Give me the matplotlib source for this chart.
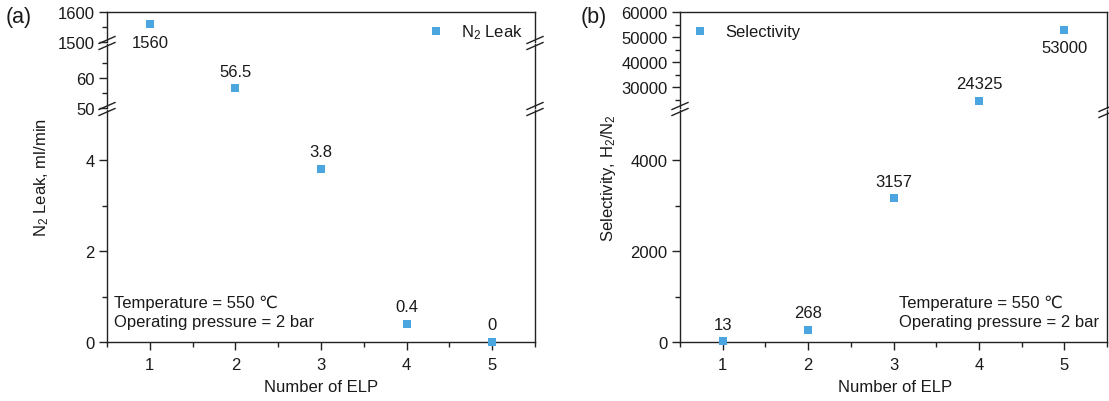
import matplotlib
matplotlib.use("Agg")
import matplotlib.pyplot as plt
from matplotlib.lines import Line2D
from matplotlib.ticker import MultipleLocator, FixedLocator
import numpy as np

plt.rcParams['font.family'] = ['Liberation Sans', 'DejaVu Sans']
plt.rcParams['mathtext.fontset'] = 'custom'
plt.rcParams['mathtext.rm'] = 'Liberation Sans'
plt.rcParams['mathtext.it'] = 'Liberation Sans:italic'
plt.rcParams['mathtext.bf'] = 'Liberation Sans:bold'

# ---------------- data ----------------
elp = [1, 2, 3, 4, 5]
n2_leak = [1560, 56.5, 3.8, 0.4, 0]
n2_label_below = [True, False, False, False, False]
selectivity = [13, 268, 3157, 24325, 53000]
sel_label_below = [False, False, False, False, True]

xticks = [1, 2, 3, 4, 5]
x_label = "Number of ELP"
ylabel_a = "N$_2$ Leak, ml/min"
ylabel_b = "Selectivity, H$_2$/N$_2$"
legend_a = "N$_2$ Leak"
legend_b = "Selectivity"
cond_text = "Temperature = 550 \u2103\nOperating pressure = 2 bar"

COLOR = "#4BA5DF"
TXT = "#1a1a1a"
W, H = 1109, 402
DPI = 100

fig = plt.figure(figsize=(W / DPI, H / DPI), dpi=DPI)


def rect(l, t, r, b):
    return [l / W, 1 - b / H, (r - l) / W, (b - t) / H]


def fx(x):
    return x / W


def fy(y):
    return 1 - y / H


TICK_FS = 12
LAB_FS = 12
LW = 1.0


def style_axis(ax, ylim, majors, minors, top=False, bottom=False):
    ax.set_xlim(0.5, 5.5)
    ax.set_ylim(*ylim)
    ax.yaxis.set_major_locator(FixedLocator(majors))
    ax.yaxis.set_minor_locator(FixedLocator(minors))
    for s in ax.spines.values():
        s.set_linewidth(LW)
        s.set_color("#222222")
    ax.spines['top'].set_visible(top)
    ax.spines['bottom'].set_visible(bottom)
    ax.tick_params(axis='y', which='major', direction='out', length=6, width=LW,
                   labelsize=TICK_FS, pad=3, colors="#222222", labelcolor=TXT)
    ax.tick_params(axis='y', which='minor', direction='out', length=3.5, width=LW,
                   colors="#222222")
    ax.tick_params(axis='y', right=False, which='both')
    if bottom:
        ax.xaxis.set_major_locator(FixedLocator(xticks))
        ax.xaxis.set_minor_locator(MultipleLocator(0.5))
        ax.tick_params(axis='x', which='major', direction='out', length=6, width=LW,
                       labelsize=TICK_FS, pad=5, colors="#222222", labelcolor=TXT)
        ax.tick_params(axis='x', which='minor', direction='out', length=3.5, width=LW,
                       colors="#222222")
        ax.tick_params(axis='x', top=False, which='both')
    else:
        ax.tick_params(axis='x', which='both', bottom=False, top=False,
                       labelbottom=False)
    ax.patch.set_alpha(0)


def plot_segment(ax, x, y, below, label=None):
    x = np.asarray(x, float)
    y = np.asarray(y, float)
    lo, hi = ax.get_ylim()
    m = (y >= lo) & (y <= hi)
    ax.plot(x[m], y[m], linestyle='none', marker='s', ms=5.5, color=COLOR,
            markeredgewidth=0, clip_on=False, zorder=5, label=label)
    for xi, yi, b in zip(x[m], y[m], np.asarray(below)[m]):
        ax.annotate(f"{yi:g}", (xi, yi), xytext=(0, -13 if b else 12.5),
                    textcoords='offset points', ha='center', va='center',
                    fontsize=12, color=TXT)


def break_mark(x, y):
    # two parallel slashes centred on (x, y) in pixel coords (y downward)
    for dy in (-3, 3):
        fig.add_artist(Line2D([fx(x - 8), fx(x + 8)],
                              [fy(y + dy + 3.5), fy(y + dy - 3.5)],
                              color="#222222", lw=1.0, clip_on=False))


# ---------------- panel (a) ----------------
L_a, R_a = 107, 535
a_top = fig.add_axes(rect(L_a, 13, R_a, 43))
a_mid = fig.add_axes(rect(L_a, 45, R_a, 109))
a_bot = fig.add_axes(rect(L_a, 111, R_a, 343))
style_axis(a_top, (1500, 1600), [1500, 1600], [1550], top=True)
style_axis(a_mid, (50, 71.3), [50, 60], [55, 65])
style_axis(a_bot, (0, 5.1), [0, 2, 4], [1, 3], bottom=True)
plot_segment(a_top, elp, n2_leak, n2_label_below, label=legend_a)
plot_segment(a_mid, elp, n2_leak, n2_label_below)
plot_segment(a_bot, elp, n2_leak, n2_label_below)
for y in (44, 110):
    break_mark(L_a, y)
    break_mark(R_a, y)

a_top.legend(loc='center left', bbox_to_anchor=(fx(428), fy(33)),
             bbox_transform=fig.transFigure, frameon=False, fontsize=LAB_FS,
             handlelength=1.0, handletextpad=1.0, borderpad=0, borderaxespad=0,
             labelcolor=TXT)

fig.text(fx(114), fy(313), cond_text, fontsize=LAB_FS, color=TXT,
         ha='left', va='center', linespacing=1.3)
fig.text(fx(42), fy(178), ylabel_a, rotation=90, fontsize=LAB_FS, color=TXT,
         ha='center', va='center')
fig.text(fx(321), fy(388), x_label, fontsize=LAB_FS, color=TXT,
         ha='center', va='center')
fig.text(fx(6), fy(17), "(a)", fontsize=15.5, color=TXT, ha='left', va='center')

# ---------------- panel (b) ----------------
L_b, R_b = 680, 1107
b_top = fig.add_axes(rect(L_b, 13, R_b, 109))
b_bot = fig.add_axes(rect(L_b, 111, R_b, 343))
style_axis(b_top, (21600, 60000), [30000, 40000, 50000, 60000],
           [25000, 35000, 45000, 55000], top=True)
style_axis(b_bot, (0, 5100), [0, 2000, 4000], [1000, 3000], bottom=True)
plot_segment(b_top, elp, selectivity, sel_label_below, label=legend_b)
plot_segment(b_bot, elp, selectivity, sel_label_below)
break_mark(L_b, 110)
break_mark(R_b, 112)

b_top.legend(loc='center left', bbox_to_anchor=(fx(692), fy(33)),
             bbox_transform=fig.transFigure, frameon=False, fontsize=LAB_FS,
             handlelength=1.0, handletextpad=1.0, borderpad=0, borderaxespad=0,
             labelcolor=TXT)

fig.text(fx(899), fy(313), cond_text, fontsize=LAB_FS, color=TXT,
         ha='left', va='center', linespacing=1.3)
fig.text(fx(609), fy(178), ylabel_b, rotation=90, fontsize=LAB_FS, color=TXT,
         ha='center', va='center')
fig.text(fx(895), fy(388), x_label, fontsize=LAB_FS, color=TXT,
         ha='center', va='center')
fig.text(fx(581), fy(17), "(b)", fontsize=15.5, color=TXT, ha='left', va='center')

fig.savefig("out.png", dpi=DPI)
